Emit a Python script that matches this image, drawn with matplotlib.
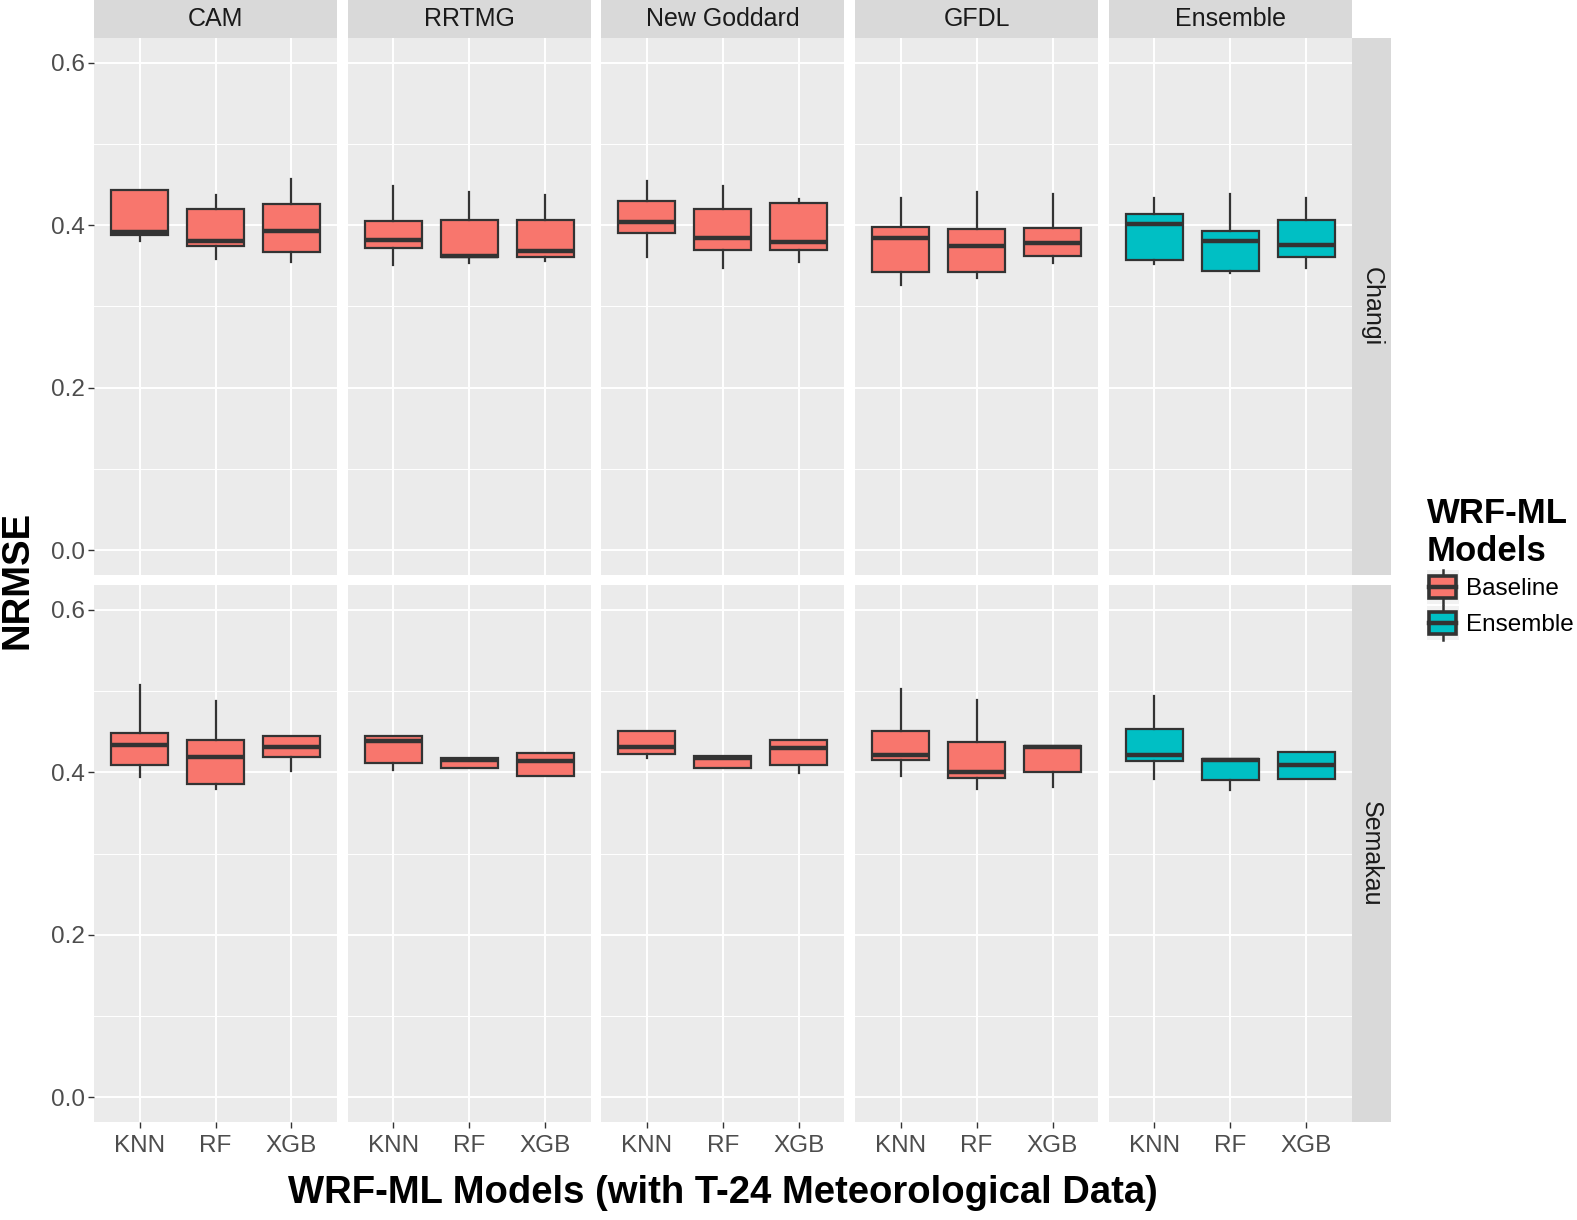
import matplotlib
matplotlib.use("Agg")
import matplotlib.pyplot as plt
from matplotlib.legend_handler import HandlerBase
from matplotlib.patches import Rectangle
from matplotlib.lines import Line2D

plt.rcParams['font.family'] = ['Liberation Sans', 'DejaVu Sans']

schemes = ["CAM", "RRTMG", "New Goddard", "GFDL", "Ensemble"]
stations = ["Changi", "Semakau"]
models = ["KNN", "RF", "XGB"]
groups = ["Baseline", "Baseline", "Baseline", "Baseline", "Ensemble"]
y_ticks = [0.0, 0.2, 0.4, 0.6]
y_minor = [0.1, 0.3, 0.5]

# per station: one row per scheme, values for KNN, RF, XGB
changi_lo = [[0.381, 0.359, 0.355], [0.351, 0.353, 0.356], [0.361, 0.348, 0.355],
             [0.327, 0.335, 0.353], [0.352, 0.341, 0.347]]
changi_q1 = [[0.388, 0.374, 0.367], [0.372, 0.361, 0.361], [0.391, 0.370, 0.370],
             [0.343, 0.343, 0.362], [0.357, 0.344, 0.361]]
changi_med = [[0.392, 0.381, 0.393], [0.382, 0.362, 0.368], [0.404, 0.384, 0.379],
              [0.384, 0.374, 0.378], [0.401, 0.381, 0.376]]
changi_q3 = [[0.443, 0.420, 0.426], [0.405, 0.406, 0.406], [0.430, 0.420, 0.428],
             [0.398, 0.395, 0.397], [0.414, 0.393, 0.407]]
changi_hi = [[0.443, 0.437, 0.457], [0.448, 0.441, 0.437], [0.454, 0.448, 0.432],
             [0.434, 0.441, 0.439], [0.433, 0.438, 0.434]]

semakau_lo = [[0.394, 0.379, 0.402], [0.403, 0.405, 0.396], [0.418, 0.405, 0.399],
              [0.395, 0.379, 0.382], [0.392, 0.378, 0.392]]
semakau_q1 = [[0.409, 0.386, 0.419], [0.412, 0.405, 0.396], [0.423, 0.405, 0.409],
              [0.415, 0.393, 0.400], [0.414, 0.391, 0.392]]
semakau_med = [[0.434, 0.419, 0.431], [0.438, 0.415, 0.414], [0.431, 0.418, 0.430],
               [0.421, 0.400, 0.431], [0.421, 0.415, 0.409]]
semakau_q3 = [[0.448, 0.440, 0.445], [0.445, 0.417, 0.424], [0.451, 0.420, 0.440],
              [0.451, 0.437, 0.432], [0.453, 0.416, 0.425]]
semakau_hi = [[0.508, 0.488, 0.445], [0.445, 0.417, 0.424], [0.451, 0.420, 0.440],
              [0.503, 0.489, 0.432], [0.494, 0.416, 0.425]]

station_stats = {
    "Changi": (changi_lo, changi_q1, changi_med, changi_q3, changi_hi),
    "Semakau": (semakau_lo, semakau_q1, semakau_med, semakau_q3, semakau_hi),
}

fill_colors = {"Baseline": "#F8766D", "Ensemble": "#00BFC4"}
edge = "#333333"
panel_bg = "#EBEBEB"
strip_bg = "#D9D9D9"
tick_col = "#4D4D4D"

W, H = 1577, 1220
fig = plt.figure(figsize=(W / 100, H / 100), dpi=100)


def fig_rect(x0, y0, w, h):
    return [x0 / W, 1 - (y0 + h) / H, w / W, h / H]


def blank(ax):
    ax.set_xticks([])
    ax.set_yticks([])
    for s in ax.spines.values():
        s.set_visible(False)


panel_left = 94
panel_w = 243
gap_x = 10.7
row_tops = [38, 585]
panel_h = 537
strip_h = 37.5
strip_w = 39

for r, station in enumerate(stations):
    lo, q1, med, q3, hi = station_stats[station]
    for c, scheme in enumerate(schemes):
        x0 = panel_left + c * (panel_w + gap_x)
        ax = fig.add_axes(fig_rect(x0, row_tops[r], panel_w, panel_h))
        ax.set_facecolor(panel_bg)
        for s in ax.spines.values():
            s.set_visible(False)

        stats = []
        for m, model in enumerate(models):
            stats.append(dict(whislo=lo[c][m], q1=q1[c][m], med=med[c][m],
                              q3=q3[c][m], whishi=hi[c][m], label=model))
        bp = ax.bxp(stats, positions=[1, 2, 3], widths=0.75, patch_artist=True,
                    showcaps=False, showfliers=False,
                    boxprops=dict(facecolor=fill_colors[groups[c]], edgecolor=edge, linewidth=1.6),
                    medianprops=dict(color=edge, linewidth=3.2, solid_capstyle='butt'),
                    whiskerprops=dict(color=edge, linewidth=1.6))
        for b in bp['boxes']:
            b.set_zorder(3)
        for ln in bp['medians'] + bp['whiskers']:
            ln.set_zorder(4)

        ax.set_xlim(0.4, 3.6)
        ax.set_ylim(-0.0305, 0.6305)
        ax.set_yticks(y_ticks)
        ax.set_yticks(y_minor, minor=True)
        ax.set_xticks([1, 2, 3])
        ax.grid(True, which='major', color='white', linewidth=1.4)
        ax.grid(True, which='minor', axis='y', color='white', linewidth=0.7)
        ax.set_axisbelow(True)
        ax.tick_params(which='minor', length=0)
        ax.tick_params(which='major', length=4, width=1.0, color=edge,
                       labelsize=17.5, labelcolor=tick_col)
        ax.tick_params(axis='y', pad=2.5)
        ax.tick_params(axis='x', pad=5)

        if c == 0:
            ax.set_yticklabels(["0.0", "0.2", "0.4", "0.6"])
        else:
            ax.tick_params(axis='y', left=False, labelleft=False)
        if r == 1:
            ax.set_xticklabels(models)
        else:
            ax.tick_params(axis='x', bottom=False, labelbottom=False)

        if r == 0:
            sax = fig.add_axes(fig_rect(x0, 0, panel_w, strip_h))
            sax.set_facecolor(strip_bg)
            blank(sax)
            sax.text(0.5, 0.5, scheme, ha='center', va='center', fontsize=18,
                     color='#1A1A1A', transform=sax.transAxes)
        if c == len(schemes) - 1:
            sax = fig.add_axes(fig_rect(x0 + panel_w, row_tops[r], strip_w, panel_h))
            sax.set_facecolor(strip_bg)
            blank(sax)
            sax.text(0.5, 0.5, station, ha='center', va='center', fontsize=18,
                     color='#1A1A1A', rotation=-90, transform=sax.transAxes)

# axis titles
fig.text((panel_left + (5 * panel_w + 4 * gap_x) / 2) / W, 1 - 1193 / H,
         "WRF-ML Models (with T-24 Meteorological Data)",
         ha='center', va='center', fontsize=27.5, fontweight='bold')
fig.text(18 / W, 1 - ((row_tops[0] + row_tops[1] + panel_h) / 2) / H, "NRMSE",
         ha='center', va='center', rotation=90, fontsize=27.5, fontweight='bold')


class BoxKeyHandler(HandlerBase):
    def create_artists(self, legend, orig_handle, xdescent, ydescent,
                       width, height, fontsize, trans):
        color = orig_handle.get_facecolor()
        x0, y0 = -xdescent, -ydescent
        bg = Rectangle((x0, y0), width, height,
                       facecolor='#F2F2F2', edgecolor='none', transform=trans)
        cx = x0 + width / 2
        whisk = Line2D([cx, cx], [y0, y0 + height],
                       color=edge, linewidth=1.8, transform=trans)
        bw = width * 0.85
        bh = height * 0.66
        box = Rectangle((cx - bw / 2, y0 + (height - bh) / 2), bw, bh,
                        facecolor=color, edgecolor=edge, linewidth=2.6, transform=trans)
        mid = Line2D([cx - bw / 2, cx + bw / 2], [y0 + height / 2] * 2,
                     color=edge, linewidth=3.2, transform=trans)
        return [bg, whisk, box, mid]


handles = [Rectangle((0, 0), 1, 1, facecolor=fill_colors[g]) for g in ["Baseline", "Ensemble"]]
leg = fig.legend(handles, ["Baseline", "Ensemble"],
                 handler_map={Rectangle: BoxKeyHandler()},
                 loc='upper left', bbox_to_anchor=(1410 / W, 1 - 480 / H),
                 frameon=False, title="WRF-ML\nModels",
                 title_fontproperties=dict(size=25, weight='bold'),
                 prop=dict(size=17.5),
                 handlelength=1.3, handleheight=1.78, handletextpad=0.3,
                 labelspacing=0.08, borderpad=0.2, alignment='left')

fig.savefig("out.png", dpi=100)
